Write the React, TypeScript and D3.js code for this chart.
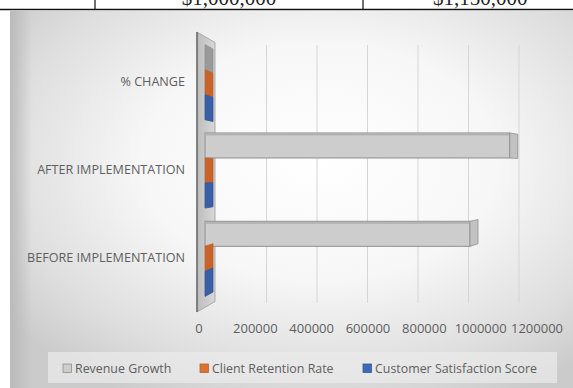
import React from "react";
import * as d3 from "d3";

// Chart data
const categories = ["% CHANGE", "AFTER IMPLEMENTATION", "BEFORE IMPLEMENTATION"];
const seriesNames = ["Revenue Growth", "Client Retention Rate", "Customer Satisfaction Score"];
const revenueGrowth = [15, 1150000, 1000000];
const clientRetention = [12.5, 90, 80];
const customerSatisfaction = [12.5, 4.5, 4];
const seriesValues = [revenueGrowth, clientRetention, customerSatisfaction];
const tickValues = [0, 200000, 400000, 600000, 800000, 1000000, 1200000];
const tableCells = ["$1,000,000", "$1,150,000"];

const W = 573;
const H = 388;

const colors = {
  face: ["#cdcdcd", "#d9732f", "#3f69b5"],
  cap: ["#b2b2b2", "#c8642a", "#3a5fa6"],
  edge: ["#8f8f8f", "#b8632c", "#355796"],
};

export default function App() {
  const font = "'Open Sans', sans-serif";
  const textColor = "#5e5e5e";

  // category bands (top to bottom) and series sub-bands
  const yCat = d3
    .scaleBand<string>()
    .domain(categories)
    .range([38, 303])
    .paddingInner(0.15)
    .paddingOuter(0.075);
  const ySer = d3
    .scaleBand<string>()
    .domain(seriesNames)
    .range([0, yCat.bandwidth()]);

  const xMax = tickValues[tickValues.length - 1];
  // front face of bars, back wall gridlines, and axis labels
  const xBar = d3.scaleLinear().domain([0, xMax]).range([205, 523]);
  const xGrid = d3.scaleLinear().domain([0, xMax]).range([216, 519]);
  const xTick = d3.scaleLinear().domain([0, xMax]).range([199, 537]);

  const capDx = 8;
  const yVanish = 172;
  const capK = 0.035;
  const backY = (y: number, k: number) => y + (yVanish - y) * k;

  // side wall (category axis wall) in oblique view
  const wallX0 = 197;
  const wallX1 = 215;
  const wallK = 0.075;
  const wallTop = 32;
  const wallBot = 312;
  const wallPts = [
    [wallX0, wallTop],
    [wallX1, backY(wallTop, wallK)],
    [wallX1, backY(wallBot, wallK)],
    [wallX0, wallBot],
  ];

  const legendItems = seriesNames.map((name, i) => ({ name, i }));
  const legendX = [63, 200, 363];

  return (
    <svg
      width={W}
      height={H}
      style={{ position: "absolute", left: 0, top: 0 }}
      xmlns="http://www.w3.org/2000/svg"
    >
      <defs>
        <radialGradient id="bg" cx="0.55" cy="0.4" r="0.7">
          <stop offset="0" stopColor="#ffffff" />
          <stop offset="0.45" stopColor="#f7f7f7" />
          <stop offset="0.8" stopColor="#dedede" />
          <stop offset="1" stopColor="#cbcbcb" />
        </radialGradient>
        <linearGradient id="leftShade" x1="0" x2="1" y1="0" y2="0">
          <stop offset="0" stopColor="#b8b8b8" stopOpacity="0.9" />
          <stop offset="1" stopColor="#b8b8b8" stopOpacity="0" />
        </linearGradient>
        <linearGradient id="wallFill" x1="0" x2="1" y1="0" y2="0">
          <stop offset="0" stopColor="#bdbdbd" />
          <stop offset="1" stopColor="#d8d8d8" />
        </linearGradient>
      </defs>

      {/* table row above the chart */}
      <rect x={0} y={0} width={W} height={11} fill="#ffffff" />
      <text
        x={229}
        y={4.5}
        textAnchor="middle"
        fontFamily="'Liberation Serif', serif"
        fontSize={21}
        fill="#222"
      >
        {tableCells[0]}
      </text>
      <text
        x={433}
        y={4.5}
        textAnchor="start"
        fontFamily="'Liberation Serif', serif"
        fontSize={21}
        fill="#222"
      >
        {tableCells[1]}
      </text>
      <line x1={95} x2={95} y1={0} y2={9} stroke="#111" strokeWidth={1.2} />
      <line x1={363} x2={363} y1={0} y2={9} stroke="#111" strokeWidth={1.2} />
      <line x1={0} x2={W} y1={9.5} y2={9.5} stroke="#111" strokeWidth={1.5} />

      {/* chart area */}
      <rect x={10} y={11} width={W - 10} height={H - 11} fill="url(#bg)" />
      <rect x={10} y={11} width={22} height={H - 11} fill="url(#leftShade)" />

      {/* back wall gridlines */}
      {tickValues.slice(1).map((t) => (
        <line
          key={`g${t}`}
          x1={xGrid(t)}
          x2={xGrid(t)}
          y1={45}
          y2={303}
          stroke="#d6d6d6"
          strokeWidth={1}
        />
      ))}

      {/* side wall */}
      <polygon
        points={wallPts.map((p) => p.join(",")).join(" ")}
        fill="url(#wallFill)"
        stroke="#9a9a9a"
        strokeWidth={0.8}
      />
      <line
        x1={wallX0}
        x2={wallX0}
        y1={wallTop}
        y2={wallBot}
        stroke="#6f6f6f"
        strokeWidth={1.6}
      />

      {/* bars */}
      {categories.map((cat, ci) =>
        seriesNames.map((s, si) => {
          const v = seriesValues[si][ci];
          const y0 = (yCat(cat) ?? 0) + (ySer(s) ?? 0);
          const y1 = y0 + ySer.bandwidth();
          const xs = xBar(0);
          const xe = xBar(v);
          const hasFace = xe - xs > 0.5;
          const cap = [
            [xe, y0],
            [xe + capDx, backY(y0, capK)],
            [xe + capDx, backY(y1, capK)],
            [xe, y1],
          ];
          return (
            <g key={`${ci}-${si}`}>
              {hasFace && (
                <>
                  <rect
                    x={xs}
                    y={y0}
                    width={xe - xs}
                    height={y1 - y0}
                    fill={colors.face[si]}
                    stroke={colors.edge[si]}
                    strokeWidth={1}
                  />
                  <rect
                    x={xs}
                    y={y0 + 0.5}
                    width={xe - xs}
                    height={2}
                    fill={colors.cap[si]}
                  />
                </>
              )}
              <polygon
                points={cap.map((p) => p.join(",")).join(" ")}
                fill={hasFace ? "#c2c2c2" : si === 0 ? "#9a9a9a" : colors.cap[si]}
                stroke={colors.edge[si]}
                strokeWidth={0.8}
              />
            </g>
          );
        })
      )}

      {/* category labels */}
      {categories.map((cat) => (
        <text
          key={cat}
          x={185}
          y={(yCat(cat) ?? 0) + yCat.bandwidth() / 2 - 1}
          textAnchor="end"
          dominantBaseline="central"
          fontFamily={font}
          fontSize={12.6}
          fill={textColor}
        >
          {cat}
        </text>
      ))}

      {/* value axis labels */}
      {tickValues.map((t) => (
        <text
          key={`t${t}`}
          x={xTick(t)}
          y={328}
          textAnchor="middle"
          dominantBaseline="central"
          fontFamily={font}
          fontSize={13}
          fill={textColor}
        >
          {d3.format("d")(t)}
        </text>
      ))}

      {/* legend */}
      <rect x={48} y={352} width={509} height={31} fill="#ebebeb" opacity={0.7} />
      {legendItems.map(({ name, i }) => (
        <g key={name}>
          <rect
            x={legendX[i]}
            y={364}
            width={8.5}
            height={8.5}
            fill={colors.face[i]}
            stroke={colors.edge[i]}
            strokeWidth={0.8}
          />
          <text
            x={legendX[i] + 12}
            y={368}
            dominantBaseline="central"
            fontFamily={font}
            fontSize={12.4}
            fill={textColor}
          >
            {name}
          </text>
        </g>
      ))}
    </svg>
  );
}
